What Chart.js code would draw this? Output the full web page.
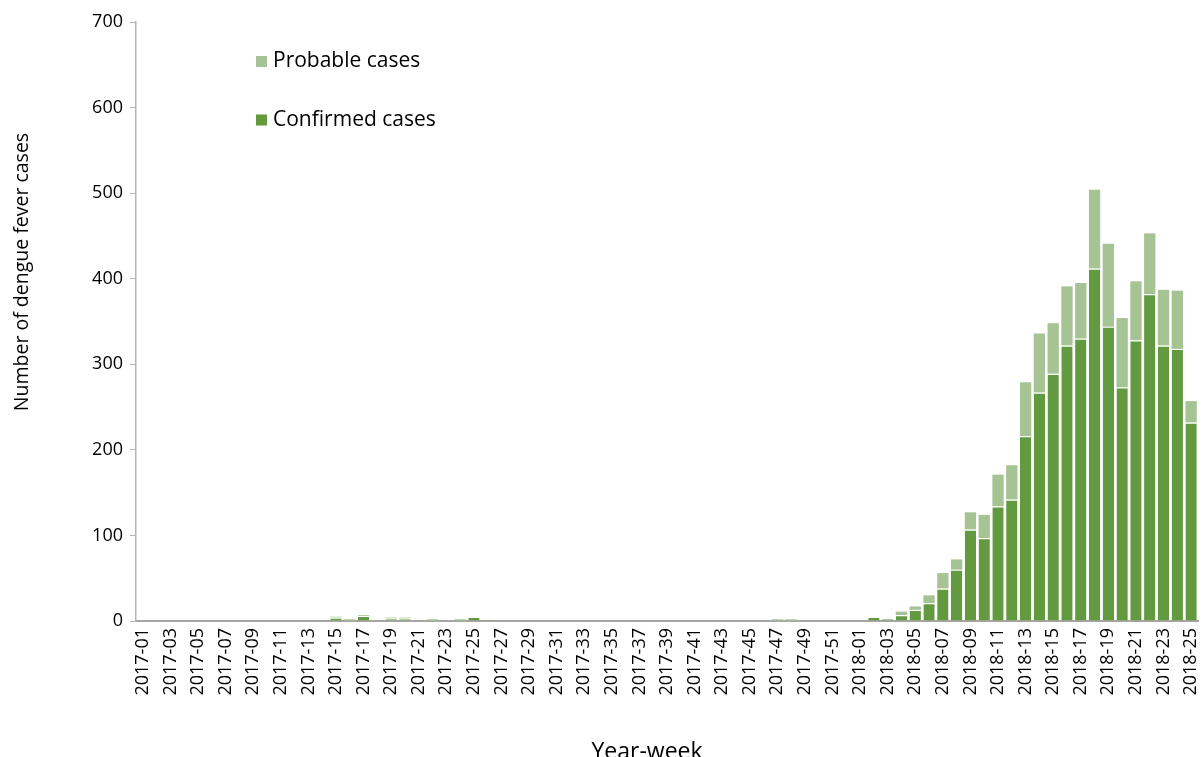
<!DOCTYPE html>
<html>
<head>
<meta charset="utf-8">
<script src="https://cdn.jsdelivr.net/npm/chart.js@4.4.1/dist/chart.umd.min.js"></script>
<style>
  html, body { margin: 0; padding: 0; background: #ffffff; overflow: hidden; }
  #wrap { position: relative; width: 1204px; height: 757px; }
</style>
</head>
<body>
<div id="wrap"><canvas id="c"></canvas></div>
<script>
const weeks2017 = ['2017-01','2017-02','2017-03','2017-04','2017-05','2017-06','2017-07','2017-08','2017-09','2017-10',
  '2017-11','2017-12','2017-13','2017-14','2017-15','2017-16','2017-17','2017-18','2017-19','2017-20',
  '2017-21','2017-22','2017-23','2017-24','2017-25','2017-26','2017-27','2017-28','2017-29','2017-30',
  '2017-31','2017-32','2017-33','2017-34','2017-35','2017-36','2017-37','2017-38','2017-39','2017-40',
  '2017-41','2017-42','2017-43','2017-44','2017-45','2017-46','2017-47','2017-48','2017-49','2017-50',
  '2017-51','2017-52'];
const weeks2018 = ['2018-01','2018-02','2018-03','2018-04','2018-05','2018-06','2018-07','2018-08','2018-09','2018-10',
  '2018-11','2018-12','2018-13','2018-14','2018-15','2018-16','2018-17','2018-18','2018-19','2018-20',
  '2018-21','2018-22','2018-23','2018-24','2018-25'];

const confirmed2017 = [0,0,0,0,0,0,0,0,0,0, 0,0,0,0,4,0,6,0,3,3, 0,0,0,0,5,2,0,0,0,0,
  0,0,0,0,0,0,0,0,0,0, 0,0,0,0,0,0,0,0,0,0, 0,0];
const probable2017 = [0,0,0,0,0,0,0,0,0,0, 0,0,0,0,1,2,1,0,1,1, 0,2,0,2,0,0,0,0,0,0,
  0,0,0,0,0,0,0,0,0,0, 0,0,0,0,0,0,2,2,0,0, 0,0];
const confirmed2018 = [0,5,3,7,13,21,38,60,107,97,134,142,216,267,289,322,330,412,344,273,328,382,322,318,232];
const probable2018 = [0,0,0,4,4,9,18,12,20,27,37,40,63,69,59,69,65,92,97,81,69,71,65,68,25];

const yTicks = [0,100,200,300,400,500,600,700];
const xAxisTitle = 'Year-week';
const yAxisTitle = 'Number of dengue fever cases';

const categories = weeks2017.concat(weeks2018);
const confirmed = confirmed2017.concat(confirmed2018);
const probable = probable2017.concat(probable2018);

const DARK = '#639a3f';
const LIGHT = '#a6c493';
const FONT = '"Open Sans", "Noto Sans", sans-serif';

const legendPlugin = {
  id: 'insideLegend',
  afterDraw(chart) {
    const {ctx, chartArea} = chart;
    const order = [1, 0];
    ctx.save();
    ctx.font = '21px ' + FONT;
    ctx.textBaseline = 'alphabetic';
    ctx.textAlign = 'left';
    order.forEach((dsIndex, i) => {
      const ds = chart.data.datasets[dsIndex];
      const base = chartArea.top + 45 + i * 58.5;
      ctx.fillStyle = ds.backgroundColor;
      ctx.fillRect(chartArea.left + 120, base - 11, 11, 11);
      ctx.fillStyle = '#000000';
      ctx.fillText(ds.label, chartArea.left + 137, base);
    });
    ctx.restore();
  }
};

const axisTitlePlugin = {
  id: 'axisTitles',
  afterDraw(chart) {
    const {ctx, chartArea} = chart;
    ctx.save();
    ctx.fillStyle = '#000000';
    // x-axis title
    ctx.font = '23px ' + FONT;
    ctx.textAlign = 'center';
    ctx.textBaseline = 'alphabetic';
    ctx.fillText(xAxisTitle, chartArea.left + 511, chartArea.bottom + 137.5);
    // y-axis title
    ctx.font = '19.5px ' + FONT;
    ctx.translate(chartArea.left - 114, chartArea.top + 250);
    ctx.rotate(-Math.PI / 2);
    ctx.textBaseline = 'middle';
    ctx.fillText(yAxisTitle, 0, 0);
    ctx.restore();
  }
};

new Chart(document.getElementById('c'), {
  type: 'bar',
  data: {
    labels: categories,
    datasets: [
      {
        label: 'Confirmed cases',
        data: confirmed,
        backgroundColor: DARK,
        borderColor: '#ffffff',
        borderWidth: {top: 1.2, left: 0, right: 0, bottom: 0},
        borderSkipped: 'start',
        barPercentage: 0.82,
        categoryPercentage: 1.0
      },
      {
        label: 'Probable cases',
        data: probable,
        backgroundColor: LIGHT,
        borderColor: '#ffffff',
        borderWidth: 0,
        barPercentage: 0.82,
        categoryPercentage: 1.0
      }
    ]
  },
  options: {
    responsive: true,
    maintainAspectRatio: false,
    animation: false,
    devicePixelRatio: 1,
    layout: { padding: { top: 22, right: 6, bottom: 0, left: 0 } },
    plugins: {
      legend: { display: false },
      tooltip: { enabled: false },
      title: { display: false }
    },
    scales: {
      x: {
        stacked: true,
        offset: true,
        grid: { display: true, drawOnChartArea: false, drawTicks: false, color: 'rgba(0,0,0,0)' },
        border: { display: true, color: '#a6a6a6', width: 2 },
        ticks: {
          autoSkip: false,
          maxRotation: 90,
          minRotation: 90,
          padding: 7,
          color: '#000000',
          font: { family: FONT, size: 18 },
          callback: function(value, index) {
            return index % 2 === 0 ? categories[index] : '';
          }
        },
        afterFit: function(scale) {
          scale.height = 136;
          scale.paddingLeft = 0;
          scale.paddingRight = 0;
        }
      },
      y: {
        stacked: true,
        min: 0,
        max: 700,
        afterBuildTicks: function(scale) {
          scale.ticks = yTicks.map(v => ({ value: v }));
        },
        grid: { display: true, drawOnChartArea: false, drawTicks: true, tickLength: 6, color: '#b5b5b5', lineWidth: 1 },
        border: { display: true, color: '#b5b5b5', width: 1.5 },
        ticks: {
          padding: 7,
          color: '#000000',
          font: { family: FONT, size: 18 }
        },
        afterFit: function(scale) {
          scale.width = 136;
        }
      }
    }
  },
  plugins: [legendPlugin, axisTitlePlugin]
});
</script>
</body>
</html>
